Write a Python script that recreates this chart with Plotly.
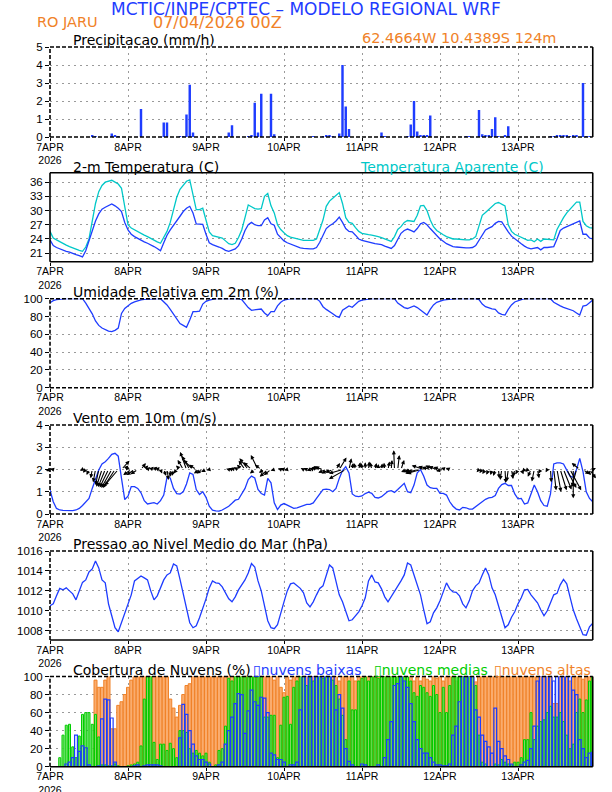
import plotly.graph_objects as go

# ---------------- data (hourly, 7APR2026 00Z .. 13APR2026 23Z) ----------------
hours = list(range(168))
day_ticks = [0, 24, 48, 72, 96, 120, 144]
day_labels = ["7APR<br>2026", "8APR", "9APR", "10APR", "11APR", "12APR", "13APR"]

precip = [
    0, 0, 0, 0, 0, 0, 0, 0, 0, 0, 0, 0, 0, 0.08, 0.05, 0, 0, 0, 0, 0.2, 0.1, 0.05, 0, 0,
    0, 0, 0, 0, 1.55, 0, 0, 0, 0, 0, 0, 0.8, 0.8, 0, 0, 0, 0.02, 0.03, 1.25, 2.9, 0.25, 0, 0, 0,
    0, 0, 0, 0, 0, 0, 0, 0.25, 0.65, 0, 0, 0, 0, 0.05, 0.08, 1.9, 0.25, 2.4, 0, 0, 2.4, 0.15, 0, 0,
    0, 0, 0, 0, 0, 0, 0, 0, 0, 0.03, 0, 0, 0.05, 0.1, 0.1, 0.05, 0, 0.2, 4.0, 1.7, 0.45, 0, 0, 0,
    0, 0, 0, 0, 0, 0, 0.25, 0.03, 0, 0, 0, 0, 0, 0, 0.05, 0.7, 2.0, 0.3, 0.08, 0.1, 0.1, 1.2, 0, 0,
    0, 0, 0, 0, 0, 0, 0, 0, 0.02, 0.02, 0, 0, 1.5, 0.15, 0.1, 0.1, 0.45, 1.1, 0.05, 0, 0.1, 0.6, 0, 0,
    0, 0, 0, 0, 0, 0, 0, 0, 0, 0, 0.05, 0.05, 0.08, 0.08, 0.08, 0.08, 0.05, 0.08, 0.08, 0, 3.0, 0.05, 0.05, 0,
]

temp2m = [
    23.8, 22.6, 22.2, 21.9, 21.6, 21.4, 21.2, 20.9, 20.7, 20.5, 20.2, 21.5, 23.5, 25.5, 27.8, 29.3, 30.3, 30.7, 31.0, 31.4, 31.0, 30.5, 29.8, 27.5,
    25.9, 25.0, 24.5, 24.1, 23.7, 23.4, 23.1, 22.8, 22.4, 22.0, 21.5, 23.2, 24.8, 25.9, 26.8, 27.7, 28.8, 29.8, 30.5, 30.9, 29.5, 27.2, 27.2, 27.1,
    25.0, 23.2, 22.8, 22.6, 22.3, 22.0, 21.6, 21.4, 21.6, 21.9, 22.6, 24.0, 25.8, 27.0, 27.5, 27.0, 26.8, 26.8, 28.0, 28.5, 27.2, 26.9, 25.0, 24.2,
    23.6, 23.2, 22.9, 22.6, 22.3, 22.1, 22.0, 21.9, 21.9, 21.9, 22.2, 23.3, 24.8, 26.2, 26.8, 27.2, 27.8, 28.6, 27.5, 26.2, 25.6, 25.5, 24.8, 24.0,
    23.7, 23.5, 23.3, 23.2, 23.0, 22.9, 22.8, 22.5, 22.2, 22.0, 22.6, 23.8, 25.2, 25.8, 26.1, 25.8, 25.5, 26.2, 27.2, 27.5, 27.0, 26.2, 25.4, 24.6,
    24.0, 23.5, 23.0, 22.7, 22.4, 22.3, 22.2, 22.2, 22.1, 22.1, 22.2, 22.6, 23.7, 24.8, 25.9, 26.3, 26.6, 27.3, 27.7, 27.6, 26.5, 25.5, 24.6, 24.0,
    23.4, 23.0, 22.5, 22.1, 21.9, 22.0, 22.2, 21.7, 22.2, 22.2, 22.3, 22.4, 24.0, 25.8, 26.3, 26.6, 26.9, 27.2, 27.6, 27.8, 25.0, 25.0, 24.2, 24.0,
]

temp_apparent = [
    25.6, 24.2, 23.8, 23.4, 23.0, 22.7, 22.4, 22.1, 21.8, 21.6, 21.4, 22.3, 24.0, 27.5, 31.5, 34.0, 35.3, 36.0, 36.2, 36.4, 36.0, 35.6, 34.7, 31.0,
    27.0, 26.3, 25.9, 25.5, 25.1, 24.8, 24.5, 24.1, 23.7, 23.4, 23.1, 24.5, 25.6, 27.5, 30.0, 32.8, 34.5, 35.4, 36.2, 36.5, 33.3, 30.2, 30.2, 30.5,
    28.0, 25.5, 24.7, 24.5, 24.3, 24.2, 23.6, 23.0, 22.8, 23.1, 24.3, 25.9, 28.5, 31.2, 30.8, 30.4, 30.3, 30.4, 33.0, 33.6, 31.0, 29.5, 27.0, 26.0,
    25.3, 24.7, 24.4, 24.2, 24.0, 23.8, 23.7, 23.7, 23.7, 23.7, 24.0, 25.8, 28.0, 30.9, 32.0, 32.6, 33.2, 33.8, 31.5, 28.5, 27.5, 27.3, 26.4, 25.6,
    25.2, 25.0, 24.9, 24.8, 24.7, 24.5, 24.3, 24.0, 23.8, 23.5, 24.5, 26.0, 26.6, 27.5, 27.9, 27.8, 27.7, 29.0, 31.0, 31.1, 30.0, 28.0, 26.6, 25.8,
    25.3, 24.9, 24.5, 24.2, 24.0, 24.0, 23.9, 23.9, 23.8, 23.8, 24.0, 24.5, 26.8, 29.0, 29.6, 30.2, 30.9, 31.5, 31.7, 31.3, 31.0, 27.0, 25.6, 25.0,
    24.7, 24.3, 24.0, 23.7, 23.8, 23.4, 24.0, 23.5, 24.0, 23.9, 23.9, 23.8, 26.0, 27.3, 28.5, 29.5, 30.3, 31.2, 31.8, 31.8, 27.7, 26.8, 26.4, 26.3,
]

rh2m = [
    95.5, 97.8, 99, 99.6, 100, 100, 100, 100, 100, 100, 100, 95, 89, 83, 75, 70, 67, 65, 63.5, 63, 64.5, 67, 83.5, 89,
    92, 94.8, 96.5, 97.8, 98.8, 99.3, 99.6, 100, 100, 100, 100, 97, 93, 88, 83, 77, 72, 70, 67.8, 76, 85.4, 85.4, 86, 94,
    97, 98.5, 99.3, 100, 100, 100, 100, 100, 100, 100, 100, 99, 94, 90, 87, 87.5, 88, 88.4, 84, 81, 85.4, 85.4, 92, 96,
    98.5, 99.3, 100, 100, 100, 100, 100, 100, 100, 100, 100, 97, 91, 88, 85, 83, 80.5, 79, 87, 89.5, 91.8, 90.3, 94, 97,
    98.5, 99, 100, 100, 100, 100, 100, 100, 100, 100, 100, 95, 92, 90, 89, 90.5, 91.8, 90, 87.5, 84.5, 81.6, 88, 93, 96,
    97.5, 98.5, 99, 99.5, 100, 100, 100, 100, 100, 100, 100, 100, 99, 94, 91, 89.5, 88.5, 88, 84, 82.5, 81.6, 88, 93, 96.3,
    98, 99, 100, 100, 100, 100, 100, 100, 100, 100, 100, 96, 93.5, 92, 90.3, 89, 88, 86.5, 84, 81.6, 91.8, 92.5, 95.5, 98.5,
]

wind_speed = [
    1.08, 0.55, 0.25, 0.18, 0.16, 0.15, 0.15, 0.15, 0.18, 0.25, 0.38, 0.52, 0.7, 1.15, 1.6, 1.98, 2.25, 2.35, 2.5, 2.68, 2.73, 2.6, 1.6, 0.65,
    0.8, 1.23, 1.23, 1.15, 0.95, 0.6, 0.45, 0.48, 0.51, 0.45, 0.6, 0.85, 1.65, 1.62, 1.15, 0.92, 0.9, 1.0, 1.35, 1.85, 1.78, 1.1, 0.88, 1.0,
    0.75, 0.35, 0.17, 0.14, 0.13, 0.18, 0.25, 0.35, 0.48, 0.62, 0.66, 0.9, 1.15, 1.55, 1.7, 1.62, 1.1, 0.92, 0.85, 1.6, 1.4, 0.5, 0.2, 0.4,
    0.47, 0.4, 0.33, 0.25, 0.28, 0.33, 0.4, 0.43, 0.43, 0.5, 0.7, 0.9, 1.1, 1.12, 1.1, 1.0, 1.15, 1.6, 1.95, 2.13, 1.85, 0.9, 0.8, 0.78,
    0.81, 0.92, 0.98, 0.93, 0.75, 0.72, 0.78, 0.9, 1.02, 1.05, 0.97, 1.1, 1.23, 1.38, 1.0, 0.96, 1.3, 1.85, 2.0, 1.7, 1.3, 1.18, 1.15, 1.15,
    0.93, 0.93, 0.85, 0.55, 0.35, 0.22, 0.18, 0.3, 0.28, 0.22, 0.22, 0.33, 0.45, 0.56, 0.66, 0.72, 0.75, 0.83, 1.15, 1.32, 1.38, 1.28, 1.28, 0.9,
    0.68, 0.7, 0.45, 0.5, 0.95, 1.3, 1.0, 0.6, 0.38, 0.35, 0.9, 2.25, 2.3, 2.3, 2.25, 2.0, 1.7, 1.65, 2.0, 2.5, 1.9, 1.0, 0.7, 0.55,
]

wind_u = [
    -0.5, -0.4, -0.25, -0.2, -0.15, -0.15, -0.15, -0.15, -0.18, -0.25, -0.3, -0.35, -0.3, -0.2, -0.3, -0.4, -0.7, -0.9, -1.1, -1.3, -1.5, -1.7, 1.0, 0.45,
    -0.3, -1.0, -1.0, -0.9, 0.6, 0.5, 0.35, 0.35, 0.4, 0.3, 0.2, 0.3, 0.2, 0.0, -0.2, -0.4, -0.5, -0.7, -0.8, -1.0, -1.2, -0.9, -0.7, -0.8,
    -0.6, -0.35, -0.17, -0.14, -0.13, -0.17, -0.25, -0.33, -0.45, -0.6, -0.6, -0.6, -0.8, -1.1, -1.0, -0.6, -0.9, -0.8, -0.7, -1.0, -0.9, -0.45, -0.18, -0.35,
    -0.45, -0.4, -0.3, -0.25, -0.25, -0.3, -0.35, -0.4, -0.4, -0.45, -0.6, -0.8, -1.0, -1.0, -1.0, -0.9, 0.5, 0.9, -1.7, -2.1, 0.3, 0.1, -0.2, 0.2,
    -0.1, 0.0, 0.1, -0.2, 0.2, 0.0, 0.1, -0.1, 0.2, 0.1, -0.1, 0.2, 0.4, 0.9, -0.8, -0.8, -1.1, -1.5, -1.7, -1.5, -1.1, -1.0, -1.0, -1.0,
    -0.8, -0.9, -0.7, -0.5, -0.3, -0.2, -0.15, -0.25, -0.25, -0.15, -0.15, -0.25, -0.3, -0.35, -0.4, -0.3, -0.2, -0.25, 0.1, -0.2, 0.1, -0.2, 0.2, -0.2,
    -0.3, 0.3, -0.3, -0.3, -0.4, -0.3, 0.2, -0.3, 0.0, -0.2, 0.1, 0.3, 0.5, 0.8, 1.0, 1.2, 1.4, 0.0, -0.6, -1.0, 0.8, 0.6, 0.8, 0.4,
]

wind_v = [
    -0.2, 0.1, 0.05, 0.0, 0.05, 0.0, 0.03, 0.0, 0.0, -0.05, -0.2, -0.4, -0.7, -1.1, -1.6, -1.95, -2.15, -2.2, -2.25, -2.3, -2.3, -2.0, 1.1, 0.5,
    0.45, -0.7, -0.7, -0.6, 0.8, 0.5, 0.3, 0.35, 0.35, 0.3, -0.5, -0.8, -1.3, -0.9, -0.8, -0.5, 0.5, 1.2, 2.2, 1.7, 1.2, 0.6, -0.5, -0.5,
    -0.3, -0.1, 0.02, 0.0, 0.02, 0.05, 0.05, 0.1, 0.12, 0.15, 0.25, 0.6, 1.1, 1.4, 0.9, -0.5, 1.8, 0.6, -0.4, -0.9, -0.7, -0.15, 0.05, 0.15,
    0.15, -0.1, 0.1, 0.05, -0.1, 0.1, 0.2, 0.2, -0.15, 0.2, 0.3, 0.4, 0.3, -0.4, -0.5, -0.4, 0.8, 1.5, -0.5, -1.2, 1.4, 0.8, 0.8, 0.9,
    0.8, 0.9, 1.0, 0.9, 0.8, 0.7, 0.75, 0.85, 1.0, 1.2, 2.4, 1.8, 1.2, -0.6, -0.3, -0.3, -0.3, -0.5, -0.5, 0.5, 0.4, 0.3, 0.5, 0.4,
    0.3, -0.2, 0.2, 0.2, 0.15, 0.05, -0.05, -0.15, -0.2, -0.15, -0.15, -0.25, -0.35, -0.45, -0.55, -0.65, -0.7, -0.8, -1.1, -1.3, -1.7, -1.5, -1.2, -0.9,
    -0.6, -0.6, -0.35, -0.3, -0.9, -1.5, -1.1, -0.5, -0.3, -0.35, -1.6, -2.6, -2.8, -2.6, -2.5, -2.3, -2.6, -3.6, -2.2, 0.8, -0.6, -0.7, -1.1, 0.2,
]

mslp = [
    1010.5, 1010.7, 1011.5, 1012.25, 1012.1, 1012.3, 1012.0, 1011.7, 1011.1, 1011.9, 1012.85, 1013.1, 1013.9, 1014.2, 1015.0, 1014.3, 1013.1, 1012.8, 1010.7, 1009.5, 1008.3, 1007.9, 1008.8, 1009.8,
    1010.6, 1011.6, 1013.0, 1013.3, 1013.5, 1013.3, 1013.1, 1012.0, 1011.1, 1011.5, 1012.4, 1013.1, 1013.6, 1013.8, 1014.7, 1014.5, 1013.15, 1011.7, 1010.4, 1008.8, 1008.3, 1008.5, 1009.3, 1010.2,
    1011.2, 1012.3, 1013.0, 1012.8, 1012.75, 1012.4, 1011.8, 1011.2, 1010.9, 1011.4, 1012.1, 1012.6, 1013.1, 1013.8, 1014.75, 1014.4, 1013.0, 1012.0, 1010.5, 1009.0, 1008.3, 1008.2, 1008.6, 1009.9,
    1010.9, 1012.0, 1012.7, 1012.8, 1012.5, 1012.25, 1011.8, 1010.8, 1010.4, 1010.9, 1011.6, 1012.25, 1012.5, 1013.5, 1014.6, 1014.3, 1012.8, 1011.6, 1010.9, 1010.0, 1009.0, 1009.1, 1009.5, 1009.9,
    1010.5, 1011.3, 1013.0, 1013.6, 1012.9, 1012.8, 1012.2, 1011.4, 1010.9, 1011.4, 1011.9, 1012.5, 1013.0, 1013.6, 1014.8, 1014.6, 1013.6, 1012.6, 1011.6, 1010.1, 1008.7, 1008.9, 1009.8, 1010.3,
    1011.0, 1011.9, 1012.8, 1012.2, 1011.9, 1011.85, 1011.5, 1010.7, 1010.3, 1011.0, 1012.0, 1012.5, 1012.8, 1013.6, 1014.3, 1013.6, 1012.3, 1011.6, 1010.4, 1009.4, 1008.3, 1008.6, 1009.35, 1009.9,
    1010.7, 1011.3, 1012.1, 1012.15, 1011.6, 1011.25, 1010.8, 1010.1, 1009.5, 1010.0, 1010.9, 1011.6, 1011.75, 1012.6, 1013.15, 1012.7, 1011.4, 1010.1, 1009.2, 1008.3, 1007.6, 1007.55, 1008.4, 1008.75,
]

cloud_low = [
    0, 0, 0, 0, 0, 3, 5, 10, 35, 17, 23, 21, 2, 0, 0, 1, 53, 75, 74, 54, 5, 0, 0, 0,
    0, 0, 1, 2, 0, 1, 2, 2, 2, 2, 1, 0, 0, 0, 0, 0, 32, 69, 58, 40, 25, 12, 8, 8,
    5, 3, 0, 0, 2, 5, 25, 40, 55, 70, 81, 80, 37, 62, 85, 72, 68, 77, 76, 60, 15, 13, 8, 8,
    5, 0, 2, 2, 5, 63, 100, 100, 100, 100, 100, 100, 100, 100, 100, 100, 63, 80, 65, 20, 6, 2, 0, 0,
    3, 2, 0, 0, 0, 2, 0, 10, 30, 50, 90, 92, 100, 95, 88, 70, 50, 30, 20, 15, 15, 10, 5, 2,
    2, 1, 1, 3, 35, 45, 72, 100, 100, 100, 100, 63, 55, 35, 28, 22, 15, 65, 28, 20, 12, 8, 3, 0,
    0, 2, 5, 7, 20, 45, 95, 100, 100, 100, 100, 95, 100, 100, 100, 100, 100, 85, 80, 30, 20, 10, 15, 16,
]

cloud_mid = [
    0, 0, 0, 10, 35, 46, 47, 22, 10, 34, 58, 60, 60, 47, 58, 33, 2, 2, 1, 1, 3, 1, 0, 0,
    1, 2, 3, 5, 23, 75, 100, 100, 27, 8, 25, 25, 18, 26, 20, 10, 40, 40, 38, 20, 15, 18, 15, 12,
    15, 5, 0, 2, 18, 20, 45, 98, 95, 100, 100, 100, 100, 100, 100, 100, 100, 100, 55, 55, 57, 57, 10, 46,
    77, 78, 47, 88, 95, 100, 100, 90, 100, 95, 100, 100, 98, 100, 100, 96, 90, 75, 57, 30, 95, 63, 63, 95,
    98, 100, 95, 100, 100, 98, 100, 100, 100, 100, 100, 100, 100, 100, 100, 95, 82, 78, 90, 88, 82, 78, 90, 80,
    60, 88, 60, 90, 100, 100, 100, 100, 100, 100, 100, 90, 35, 5, 3, 0, 0, 3, 2, 8, 5, 3, 2, 5,
    5, 10, 30, 30, 60, 30, 45, 50, 52, 60, 67, 55, 55, 60, 50, 35, 20, 25, 60, 75, 60, 74, 95, 100,
]

cloud_high = [
    0, 0, 0, 0, 0, 0, 0, 0, 0, 0, 0, 0, 0, 0, 96, 88, 88, 96, 100, 42, 42, 68, 72, 80,
    88, 96, 100, 100, 100, 100, 100, 100, 100, 100, 100, 100, 100, 75, 65, 55, 68, 80, 90, 92, 100, 100, 100, 100,
    100, 100, 100, 100, 100, 100, 100, 100, 100, 100, 100, 100, 100, 100, 100, 100, 100, 100, 100, 100, 100, 96, 100, 88,
    82, 100, 96, 100, 100, 100, 100, 100, 100, 100, 100, 100, 100, 100, 100, 100, 100, 95, 100, 100, 100, 100, 95, 100,
    100, 100, 100, 100, 100, 100, 100, 100, 100, 100, 100, 100, 100, 100, 95, 100, 95, 100, 95, 100, 97, 95, 100, 98,
    100, 95, 100, 100, 100, 95, 100, 100, 100, 100, 100, 94, 100, 100, 100, 100, 100, 100, 100, 100, 100, 100, 100, 100,
    100, 100, 100, 100, 100, 100, 100, 100, 100, 100, 100, 70, 70, 100, 100, 100, 95, 100, 100, 100, 97, 100, 100, 100,
]

# ---------------- styling ----------------
W, H = 612, 792
BLUE = "rgb(30,60,255)"
CYAN = "rgb(0,200,200)"
ORANGE = "rgb(240,130,40)"
GREEN = "rgb(0,205,0)"
TFONT = "DejaVu Sans"
TKFONT = "Liberation Sans Narrow, Liberation Sans, sans-serif"
X0, X1 = 50, 592.75
panels = [(47, 137), (172.7, 261.7), (298.7, 387.7), (425, 514), (551, 640), (676.5, 766.7)]
yranges = [[0, 5], [19.2, 38], [0, 100], [0, 4], [1007.07, 1016], [0, 100]]
yticks = [[0, 1, 2, 3, 4, 5], [21, 24, 27, 30, 33, 36], [0, 20, 40, 60, 80, 100],
          [0, 1, 2, 3, 4], [1008, 1010, 1012, 1014, 1016], [0, 20, 40, 60, 80, 100]]
# frame side styles: top, left, bottom, right
frames = [("d", "d", "d", "s"), ("s", "s", "s", "s"), ("d", "d", "d", "s"),
          ("d", "d", "d", "s"), ("d", "d", "s", "s"), ("d", "d", "s", "s")]

fig = go.Figure()

def ax(k):
    return ("x" if k == 1 else f"x{k}"), ("y" if k == 1 else f"y{k}")

# panel 1: precipitation
xa, ya = ax(1)
fig.add_trace(go.Bar(x=hours, y=precip, width=0.75, marker=dict(color=BLUE, line=dict(width=0)),
                     xaxis=xa, yaxis=ya, showlegend=False))
# panel 2: temperatures
xa, ya = ax(2)
fig.add_trace(go.Scatter(x=hours, y=temp_apparent, mode="lines", line=dict(color=CYAN, width=1.3),
                         xaxis=xa, yaxis=ya, showlegend=False))
fig.add_trace(go.Scatter(x=hours, y=temp2m, mode="lines", line=dict(color=BLUE, width=1.3),
                         xaxis=xa, yaxis=ya, showlegend=False))
# panel 3: RH
xa, ya = ax(3)
fig.add_trace(go.Scatter(x=hours, y=rh2m, mode="lines", line=dict(color=BLUE, width=1.3),
                         xaxis=xa, yaxis=ya, showlegend=False))
# panel 4: wind speed
xa, ya = ax(4)
fig.add_trace(go.Scatter(x=hours, y=wind_speed, mode="lines", line=dict(color=BLUE, width=1.3),
                         xaxis=xa, yaxis=ya, showlegend=False))
# panel 5: pressure
xa, ya = ax(5)
fig.add_trace(go.Scatter(x=hours, y=mslp, mode="lines", line=dict(color=BLUE, width=1.3),
                         xaxis=xa, yaxis=ya, showlegend=False))
# panel 6: cloud cover
xa, ya = ax(6)
fig.add_trace(go.Bar(x=hours, y=cloud_high, width=0.92,
                     marker=dict(color="rgb(250,172,110)", line=dict(color=ORANGE, width=1)),
                     xaxis=xa, yaxis=ya, showlegend=False))
fig.add_trace(go.Bar(x=hours, y=cloud_mid, width=0.62,
                     marker=dict(color="rgba(110,225,95,0.85)", line=dict(color=GREEN, width=1)),
                     xaxis=xa, yaxis=ya, showlegend=False))
fig.add_trace(go.Bar(x=hours, y=cloud_low, width=0.85,
                     marker=dict(color="rgba(0,0,0,0)", line=dict(color=BLUE, width=1.2)),
                     xaxis=xa, yaxis=ya, showlegend=False))

layout = dict(template="none", width=W, height=H, margin=dict(l=0, r=0, t=0, b=0, pad=0),
              paper_bgcolor="white", plot_bgcolor="white", barmode="overlay", showlegend=False)
shapes = []
for i, (t, b) in enumerate(panels):
    k = i + 1
    xname = "xaxis" if k == 1 else f"xaxis{k}"
    yname = "yaxis" if k == 1 else f"yaxis{k}"
    xa, ya = ax(k)
    layout[xname] = dict(domain=[X0 / W, X1 / W], range=[0, 167], anchor=ya, automargin=False,
                         tickmode="array", tickvals=day_ticks, ticktext=day_labels,
                         ticks="outside", ticklen=3, tickwidth=1, tickcolor="black",
                         ticklabelstandoff=-3,
                         showgrid=True, gridcolor="#9a9a9a", gridwidth=1.2,
                         griddash="2px,4px", zeroline=False, showline=False,
                         tickfont=dict(family=TKFONT, size=10.5, color="black"))
    layout[yname] = dict(domain=[1 - b / H, 1 - t / H], range=yranges[i], anchor=xa, automargin=False,
                         tickmode="array", tickvals=yticks[i], ticks="outside", ticklen=4,
                         tickwidth=1, tickcolor="black",
                         showgrid=True, gridcolor="#9a9a9a", gridwidth=1.2, griddash="2px,4px",
                         zeroline=False, showline=False,
                         tickfont=dict(family=TKFONT, size=11.5, color="black"))
    xd = f"{xa} domain"
    yd = f"{ya} domain"
    sides = [((0, 1), (1, 1)), ((0, 0), (0, 1)), ((0, 0), (1, 0)), ((1, 0), (1, 1))]
    for (p0, p1), st in zip(sides, frames[i]):
        shapes.append(dict(type="line", xref=xd, yref=yd, x0=p0[0], y0=p0[1], x1=p1[0], y1=p1[1],
                           line=dict(color="black", width=1.6, dash=("4px,2px" if st == "d" else "solid"))))
layout["shapes"] = shapes

anns = []

def txt(s, px, py, color, size, anchor="left"):
    anns.append(dict(text=s, x=px / W, y=1 - py / H, xref="paper", yref="paper", xanchor=anchor,
                     yanchor="middle", showarrow=False, font=dict(family=TFONT, size=size, color=color)))

txt("MCTIC/INPE/CPTEC – MODELO REGIONAL WRF", 306, 9, BLUE, 17, "center")
txt("RO JARU", 35, 22, ORANGE, 14.5)
txt("07/04/2026 00Z", 151, 22, ORANGE, 16)
txt("62.4664W 10.4389S 124m", 360, 38, ORANGE, 14.5)
txt("Precipitacao (mm/h)", 71, 40, "black", 14)
txt("2-m Temperatura (C)", 71, 167, "black", 14)
txt("Temperatura Aparente (C)", 358, 167, CYAN, 14)
txt("Umidade Relativa em 2m (%)", 71, 292, "black", 14)
txt("Vento em 10m (m/s)", 71, 418, "black", 14)
txt("Pressao ao Nivel Medio do Mar (hPa)", 71, 544, "black", 14)
txt("Cobertura de Nuvens (%)", 71, 670, "black", 14)
txt("▯nuvens baixas", 251, 670, BLUE, 14)
txt("▯nuvens medias", 372, 670, GREEN, 14)
txt("▯nuvens altas", 492, 670, ORANGE, 14)

# wind vectors (panel 4), drawn from baseline y=2
ARROW_PX = 8.0
hours_per_px = 167 / (X1 - X0)
units_per_px = 4 / (panels[3][1] - panels[3][0])
for h, u, v in zip(hours, wind_u, wind_v):
    anns.append(dict(x=h + u * ARROW_PX * hours_per_px, y=2 + v * ARROW_PX * units_per_px,
                     ax=h, ay=2, xref="x4", yref="y4", axref="x4", ayref="y4", text="",
                     showarrow=True, arrowhead=2, arrowsize=0.75, arrowwidth=1.1,
                     arrowcolor="black", standoff=0, startstandoff=0))
layout["annotations"] = anns

fig.update_layout(**layout)
fig.write_html("out.html", config={"displayModeBar": False},
               post_script="document.body.style.margin='0px';")
